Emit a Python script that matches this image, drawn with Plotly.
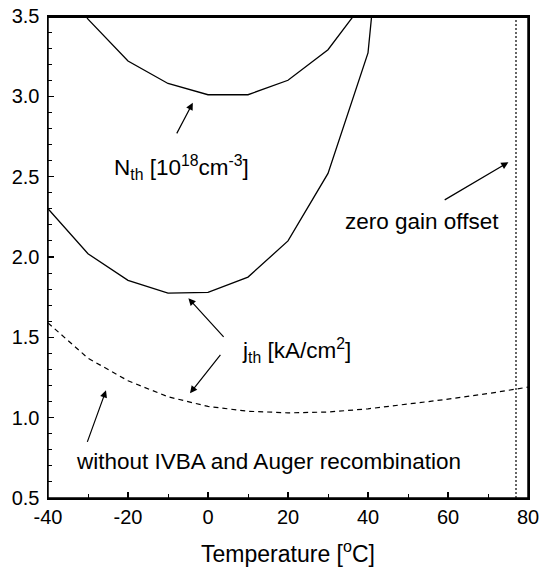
import plotly.graph_objects as go

# Data
temps = [-40, -30, -20, -10, 0, 10, 20, 30, 40, 50]
n_th = [3.85, 3.48, 3.22, 3.08, 3.01, 3.01, 3.10, 3.29, 3.62, 4.1]
j_th = [2.30, 2.02, 1.855, 1.775, 1.78, 1.875, 2.10, 2.52, 3.27, 5.8]

temps_noaug = [-40, -30, -20, -10, 0, 10, 20, 30, 40, 50, 60, 70, 80]
j_noaug = [1.59, 1.37, 1.23, 1.13, 1.07, 1.04, 1.03, 1.035, 1.055, 1.085, 1.115, 1.15, 1.19]

zero_gain_T = 77

x_ticks = [-40, -20, 0, 20, 40, 60, 80]
y_ticks = [0.5, 1.0, 1.5, 2.0, 2.5, 3.0, 3.5]

FONT = "Liberation Sans, Arial, sans-serif"

fig = go.Figure()
line_style = dict(color="black", width=1.3)
fig.add_trace(go.Scatter(x=temps, y=n_th, mode="lines", line=line_style, showlegend=False))
fig.add_trace(go.Scatter(x=temps, y=j_th, mode="lines", line=line_style, showlegend=False))
fig.add_trace(go.Scatter(x=temps_noaug, y=j_noaug, mode="lines",
                         line=dict(color="black", width=1.2, dash="5px,4px"), showlegend=False))
fig.add_trace(go.Scatter(x=[zero_gain_T, zero_gain_T], y=[0.5, 3.5], mode="lines",
                         line=dict(color="black", width=1.2, dash="2px,2px"), showlegend=False))

def arrow(xt, yt, xh, yh):
    return dict(x=xh, y=yh, ax=xt, ay=yt, xref="x", yref="y", axref="x", ayref="y",
                showarrow=True, arrowhead=2, arrowsize=1.2, arrowwidth=1.2,
                arrowcolor="black", text="")

annos = [
    arrow(-8, 2.76, -3.8, 2.96),
    arrow(58.8, 2.35, 75.1, 2.59),
    arrow(4.25, 1.494, -4.9, 1.743),
    arrow(3.4, 1.40, -4.5, 1.152),
    arrow(-30.3, 0.84, -25.5, 1.17),
]
txt_font = dict(family=FONT, size=22.5, color="black")
annos += [
    dict(x=-6.6, y=2.56, xref="x", yref="y", showarrow=False,
         text="N<sub>th</sub> [10<sup>18</sup>cm<sup>-3</sup>]", font=txt_font),
    dict(x=53.6, y=2.22, xref="x", yref="y", showarrow=False,
         text="zero gain offset", font=txt_font),
    dict(x=22, y=1.42, xref="x", yref="y", showarrow=False,
         text="j<sub>th</sub> [kA/cm<sup>2</sup>]", font=txt_font),
    dict(x=15, y=0.727, xref="x", yref="y", showarrow=False,
         text="without IVBA and Auger recombination", font=txt_font),
]

fig.update_layout(
    width=539, height=567,
    margin=dict(l=48, r=11, t=16, b=69),
    paper_bgcolor="white", plot_bgcolor="white",
    font=dict(family=FONT, size=20, color="black"),
    annotations=annos,
    shapes=[
        dict(type="rect", xref="paper", yref="paper", x0=0, x1=1, y0=0, y1=1,
             line=dict(color="black", width=1.5), layer="above"),
        dict(type="line", xref="paper", yref="paper", x0=0, x1=1, y0=0.998, y1=0.998,
             line=dict(color="black", width=2), layer="above"),
    ],
    showlegend=False,
    hovermode=False,
)
fig.update_xaxes(
    range=[-40, 80], tickvals=x_ticks, ticktext=[str(v) for v in x_ticks],
    ticks="inside", ticklen=6, tickwidth=1.2, tickcolor="black",
    minor=dict(dtick=10, ticks="inside", ticklen=4, tickcolor="black", tickwidth=1),
    showline=True, linecolor="black", linewidth=1.5, mirror=True,
    showgrid=False, zeroline=False, automargin=False, ticklabeloverflow="allow",
    tickfont=dict(family=FONT, size=20),
    title=dict(text="Temperature [<sup>o</sup>C]", font=dict(family=FONT, size=23), standoff=21),
)
fig.update_yaxes(
    range=[0.5, 3.5], tickvals=y_ticks, ticktext=[f"{v:.1f}" for v in y_ticks],
    ticks="inside", ticklen=6, tickwidth=1.2, tickcolor="black",
    minor=dict(dtick=0.1, ticks="inside", ticklen=4, tickcolor="black", tickwidth=1),
    showline=True, linecolor="black", linewidth=1.5, mirror=True,
    showgrid=False, zeroline=False, automargin=False, ticklabeloverflow="allow",
    ticklabelstandoff=3,
    tickfont=dict(family=FONT, size=20),
)

fig.write_html("out.html",
               config={"displayModeBar": False, "staticPlot": True},
               post_script="document.body.style.margin='0';document.body.style.overflow='hidden';")
